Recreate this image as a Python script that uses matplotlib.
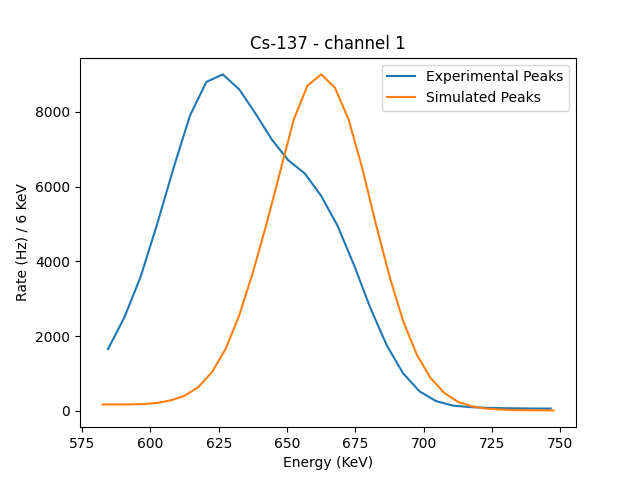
import matplotlib
matplotlib.use("Agg")
import matplotlib.pyplot as plt

exp_energy = [584.5 + 6 * i for i in range(28)]
exp_rate = [1650, 2500, 3600, 5000, 6500, 7900, 8800, 9000, 8600, 7950,
            7250, 6700, 6350, 5750, 4950, 3900, 2750, 1750, 1000, 520,
            260, 140, 100, 80, 70, 65, 60, 60]

sim_energy = [582.5 + 5 * i for i in range(34)]
sim_rate = [170, 170, 170, 180, 210, 280, 400, 630, 1030, 1650,
            2550, 3700, 5000, 6400, 7800, 8700, 9000, 8650, 7800, 6500,
            5000, 3600, 2400, 1500, 880, 480, 240, 120, 60, 35,
            20, 15, 12, 10]

fig, ax = plt.subplots(figsize=(6.4, 4.8), dpi=100)
ax.plot(exp_energy, exp_rate, label="Experimental Peaks")
ax.plot(sim_energy, sim_rate, label="Simulated Peaks")
ax.set_title("Cs-137 - channel 1")
ax.set_xlabel("Energy (KeV)")
ax.set_ylabel("Rate (Hz) / 6 KeV")
ax.legend()
fig.savefig("out.png")
